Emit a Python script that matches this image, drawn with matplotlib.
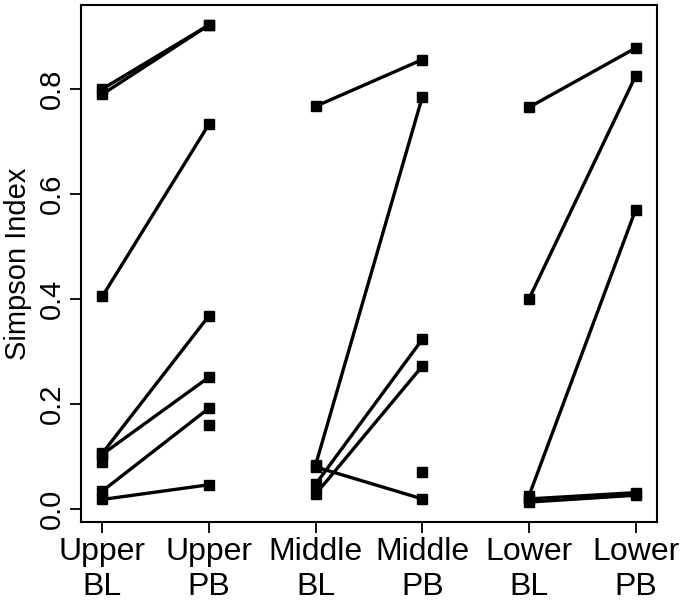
import numpy as np
import matplotlib
matplotlib.use("Agg")
import matplotlib.pyplot as plt

plt.rcParams['font.family'] = ['Liberation Sans', 'DejaVu Sans']

nan = np.nan
# paired Simpson index values per zone (BL = baseline, PB = post)
upper_bl = [0.800, 0.790, 0.405, 0.106, 0.104, 0.034, 0.018, 0.090, nan]
upper_pb = [0.922, 0.922, 0.733, 0.368, 0.251, 0.192, 0.046, nan, 0.160]
middle_bl = [0.767, 0.084, 0.080, 0.047, 0.028, nan]
middle_pb = [0.856, 0.785, 0.019, 0.323, 0.272, 0.070]
lower_bl = [0.765, 0.400, 0.025, 0.019, 0.013]
lower_pb = [0.878, 0.825, 0.570, 0.031, 0.026]

tick_labels = ["Upper\nBL", "Upper\nPB", "Middle\nBL", "Middle\nPB", "Lower\nBL", "Lower\nPB"]
yticks = [0.0, 0.2, 0.4, 0.6, 0.8]

fig = plt.figure(figsize=(6.82, 6.03), dpi=100)
ax = fig.add_axes([0.1188, 0.1343, 0.8445, 0.8574])

groups = [(upper_bl, upper_pb), (middle_bl, middle_pb), (lower_bl, lower_pb)]
for i, (bl, pb) in enumerate(groups):
    x0 = 2 * i + 1
    for a, b in zip(bl, pb):
        ax.plot([x0, x0 + 1], [a, b], color="black", lw=2.4,
                marker="s", ms=6.5, solid_capstyle="butt")

ax.set_xlim(0.8, 6.2)
ax.set_ylim(-0.025, 0.96)
ax.set_xticks(range(1, 7))
ax.set_xticklabels(tick_labels, fontsize=23, linespacing=1.2)
ax.set_yticks(yticks)
ax.set_yticklabels([f"{v:.1f}" for v in yticks], fontsize=21, rotation=90, va="center")
ax.set_ylabel("Simpson Index", fontsize=21, labelpad=4)
ax.tick_params(length=8, width=1.3, pad=3)
for s in ax.spines.values():
    s.set_linewidth(1.5)

fig.savefig("out.png", dpi=100)
